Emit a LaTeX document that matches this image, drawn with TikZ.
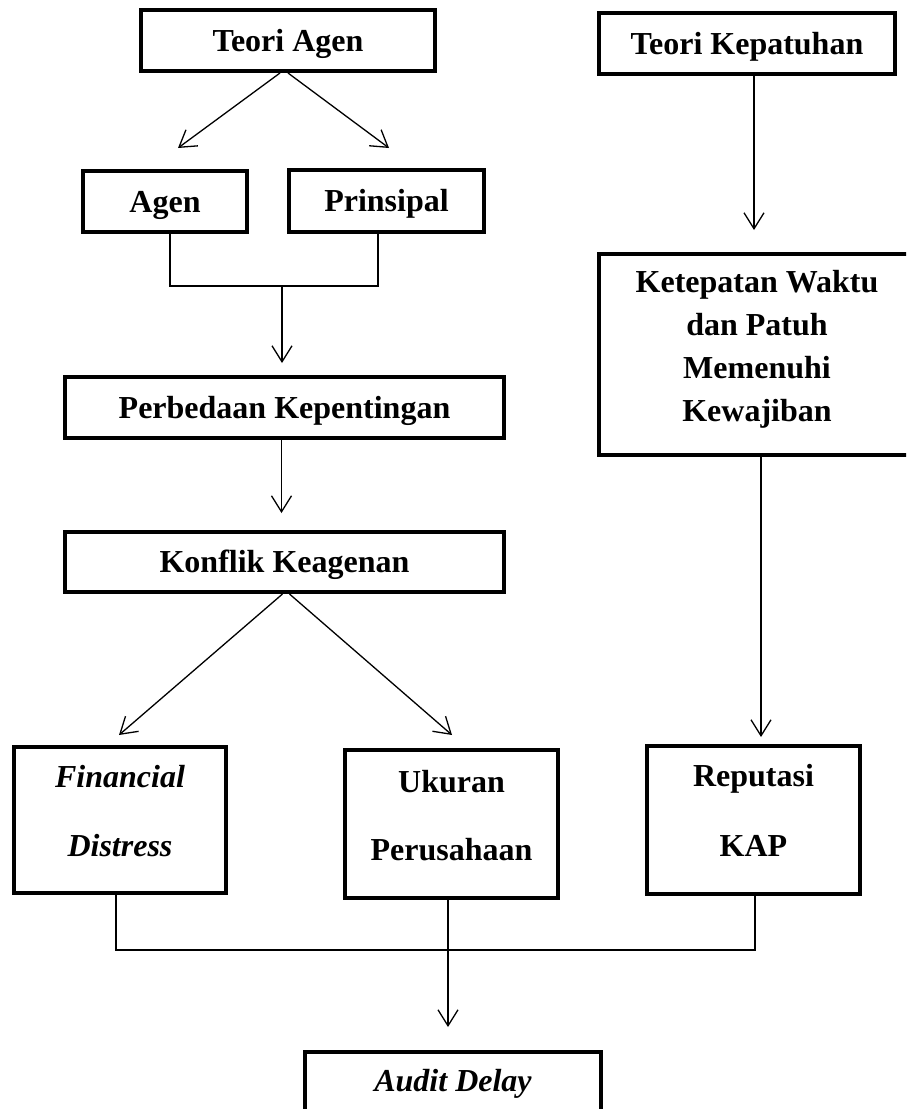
\documentclass[tikz,border=0pt]{standalone}
\usepackage{fontspec}
\setmainfont{Liberation Serif}
\usetikzlibrary{arrows.meta}
\begin{document}
\begin{tikzpicture}[x=1pt,y=-1pt,
  box/.style={draw, line width=4pt, inner sep=0pt,
    font=\fontsize{32}{42.7}\selectfont\bfseries,
    text height=21pt, text depth=0pt},
  conn/.style={line width=1.3pt},
  arr/.style={conn, -{Straight Barb[length=16pt,width=20pt]}}]
\useasboundingbox (0,0) rectangle (906,1109);
\clip (0,0) rectangle (906,1109);

% left column
\node[box, minimum width=294pt, minimum height=61pt] (ta) at (288,40.5) {Teori Agen};
\node[box, minimum width=164pt, minimum height=61pt] (agen) at (165,201.5) {Agen};
\node[box, minimum width=195pt, minimum height=62pt] (prin) at (386.5,201) {Prinsipal};
\node[box, minimum width=439pt, minimum height=61pt] (pk) at (284.5,407.5) {Perbedaan Kepentingan};
\node[box, minimum width=439pt, minimum height=60pt] (kk) at (284.5,562) {Konflik Keagenan};

% right column
\node[box, minimum width=296pt, minimum height=61pt] (tk) at (747,43.5) {Teori Kepatuhan};
\node[box, minimum width=316pt, minimum height=201pt, text height=150pt, text depth=17pt] (kw) at (757,354.5)
  {\parbox[b]{300pt}{\centering Ketepatan Waktu\\ dan Patuh\\ Memenuhi\\ Kewajiban}};

% bottom row
\node[box, minimum width=212pt, minimum height=146pt, text height=91pt, text depth=19pt] (fd) at (120,820)
  {\parbox[b]{200pt}{\centering\fontsize{32}{69}\selectfont\itshape Financial\\ Distress}};
\node[box, minimum width=213pt, minimum height=148pt, text height=91pt, text depth=19pt] (uk) at (451.5,824)
  {\parbox[b]{200pt}{\centering\fontsize{32}{68}\selectfont Ukuran\\ Perusahaan}};
\node[box, minimum width=213pt, minimum height=148pt, text height=91pt, text depth=19pt] (rk) at (753.5,820)
  {\parbox[b]{200pt}{\centering\fontsize{32}{70}\selectfont Reputasi\\ KAP}};
\node[box, minimum width=296pt, minimum height=78pt, text height=23pt, text depth=23pt, font=\fontsize{32}{42.7}\selectfont\bfseries\itshape] (ad) at (453,1091) {Audit Delay};

% free-end coordinates
\coordinate (tipAgen) at (178,148);
\coordinate (tipPrin) at (389,148);
\coordinate (jA) at (282,286);
\coordinate (tipFd) at (119,735);
\coordinate (tipUk) at (452,735);
\coordinate (jB) at (300,950);

% connectors
\draw[arr] ([xshift=-8pt]ta.south) -- (tipAgen);
\draw[arr] (ta.south) -- (tipPrin);
\draw[conn] ([xshift=5pt]agen.south) |- (jA) -| ([xshift=-8.5pt]prin.south);
\draw[arr, shorten >=12pt] (jA) -- (jA |- pk.north);
\draw[arr, shorten >=17pt] ([xshift=-3pt]pk.south) -- ([xshift=-3pt]kk.north);
\draw[arr] ([xshift=-2pt]kk.south) -- (tipFd);
\draw[arr] ([xshift=5pt]kk.south) -- (tipUk);
\draw[arr, shorten >=22pt] ([xshift=7pt]tk.south) -- ([xshift=7pt]tk.south |- kw.north);
\draw[arr, shorten >=7pt] ([xshift=4pt]kw.south) -- ([xshift=4pt]kw.south |- rk.north);
\draw[conn] ([xshift=-4pt]fd.south) |- (jB) -| ([xshift=1.5pt]rk.south);
\draw[arr, shorten >=23pt] ([xshift=-3.5pt]uk.south) -- ([xshift=-3.5pt]uk.south |- ad.north);
\end{tikzpicture}
\end{document}
